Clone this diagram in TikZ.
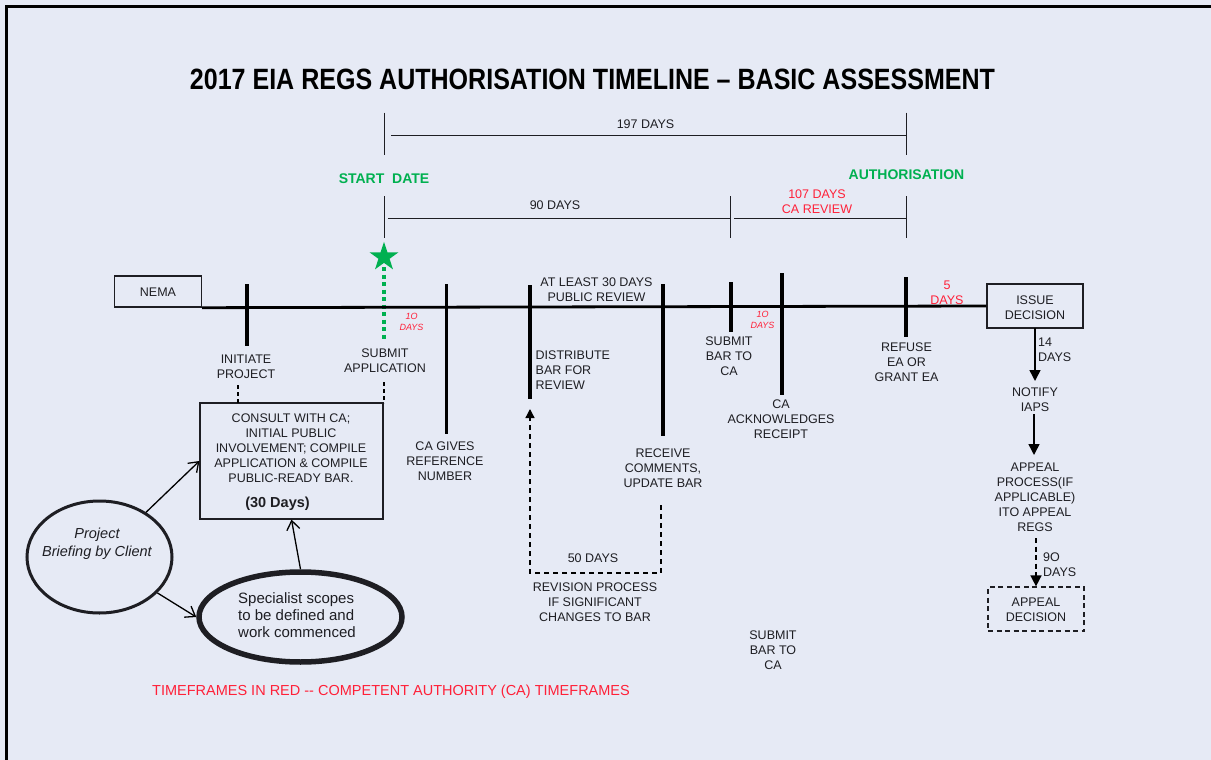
\documentclass[tikz,border=0pt]{standalone}
\usepackage{fontspec}
\setmainfont{Liberation Sans}
\usetikzlibrary{arrows.meta,shapes.geometric}
\definecolor{bg}{RGB}{230,234,245}
\definecolor{grn}{RGB}{0,176,80}
\definecolor{rd}{RGB}{255,32,56}
\definecolor{ink}{RGB}{30,30,35}
\tikzset{
  lbl/.style={font=\fontsize{12.5}{15}\selectfont, align=center, inner sep=0pt, text=ink},
  lblleft/.style={lbl, align=left, anchor=west},
  redlbl/.style={lbl, text=rd},
  smallred/.style={font=\fontsize{9}{11}\selectfont\itshape, align=center, inner sep=0pt, text=rd},
  greenlbl/.style={font=\fontsize{14}{16}\selectfont\bfseries, inner sep=0pt, text=grn},
  tickline/.style={line width=3.5pt},
  dimline/.style={line width=0.9pt, draw=ink},
  timeline/.style={line width=2.8pt},
  boxshape/.style={draw=ink, line width=1.4pt, inner sep=0pt},
  dashline/.style={line width=1.3pt, dash pattern=on 5pt off 4pt},
  openarrow/.style={line width=1.3pt, -{Straight Barb[length=9pt,width=13pt]}},
  fillarrow/.style={line width=1.5pt, -{Triangle[length=11pt,width=11pt]}},
}
\begin{document}
\begin{tikzpicture}[x=1pt,y=-1pt]
\useasboundingbox (0,0) rectangle (1211,760);
\fill[bg] (0,0) rectangle (1211,760);
\draw[line width=2.5pt] (6.5,760) -- (6.5,6.5) -- (1211,6.5);

% title
\node[inner sep=0pt, text=black] (title) at (592.5,79)
  {\resizebox{805pt}{20.5pt}{\bfseries 2017 EIA REGS AUTHORISATION TIMELINE -- BASIC ASSESSMENT}};

% dimension lines
\coordinate (sd1) at (384,112.5); \coordinate (sd2) at (384,155);
\coordinate (sd3) at (384,196);   \coordinate (sd4) at (384,238);
\coordinate (au1) at (906,112.5); \coordinate (au2) at (906,155);
\coordinate (au3) at (906,196);   \coordinate (au4) at (906,238);
\coordinate (sb1) at (730,196);   \coordinate (sb2) at (730,238);
\coordinate (d197a) at (391,135); \coordinate (d197b) at (906,135);
\coordinate (d90a) at (388,218);  \coordinate (d90b) at (730,218);
\coordinate (d107a) at (734,218); \coordinate (d107b) at (906,218);
\draw[dimline] (sd1) -- (sd2);
\draw[dimline] (sd3) -- (sd4);
\draw[dimline] (au1) -- (au2);
\draw[dimline] (au3) -- (au4);
\draw[dimline] (sb1) -- (sb2);
\draw[dimline] (d197a) -- (d197b);
\draw[dimline] (d90a) -- (d90b);
\draw[dimline] (d107a) -- (d107b);
\node[lbl] (l197) at (645.5,124) {197 DAYS};
\node[lbl] (l90) at (555,205) {90 DAYS};
\node[redlbl] (l107) at (817,202) {107 DAYS\\CA REVIEW};
\node[greenlbl] (start) at (384,179) {START\ \ DATE};
\node[greenlbl] (auth) at (906.5,175) {AUTHORISATION};

% star and green dotted line
\node[star, star points=5, star point ratio=2.6, fill=grn, minimum size=30.5pt, inner sep=0pt] (star) at (384,257) {};
\coordinate (gd1) at (384,267); \coordinate (gd2) at (384,340);
\draw[grn, line width=4pt, dash pattern=on 4pt off 3.5pt] (gd1) -- (gd2);

% boxes on the timeline
\node[boxshape, minimum width=87pt, minimum height=31pt] (nema) at (158,291.5) {};
\node[lbl] (nematxt) at (158,292) {NEMA};
\node[boxshape, minimum width=96pt, minimum height=44pt] (issue) at (1035,306) {};
\node[lbl] (issuetxt) at (1035,307.5) {ISSUE\\DECISION};

% main timeline
\draw[timeline] (nema.south east) -- (issue.west);

% ticks
\coordinate (t1a) at (247,284); \coordinate (t1b) at (247,346);
\coordinate (t2a) at (446.5,284); \coordinate (t2b) at (446.5,434);
\coordinate (t3a) at (530,285); \coordinate (t3b) at (530,399);
\coordinate (t4a) at (663,284); \coordinate (t4b) at (663,436);
\coordinate (t5a) at (731,282); \coordinate (t5b) at (731,332);
\coordinate (t6a) at (782,273); \coordinate (t6b) at (782,395);
\coordinate (t7a) at (906,277); \coordinate (t7b) at (906,337);
\foreach \t in {1,...,7} {\draw[tickline] (t\t a) -- (t\t b);}

% timeline labels
\node[lbl] (initiate) at (246,366.5) {INITIATE\\PROJECT};
\node[lbl] (submitapp) at (385,360.5) {SUBMIT\\APPLICATION};
\node[smallred] (ten1) at (411.5,321.5) {1O\\DAYS};
\node[lbl] (cagives) at (445,461.5) {CA GIVES\\REFERENCE\\NUMBER};
\node[lbl] (atleast) at (596.5,290) {AT LEAST 30 DAYS\\PUBLIC REVIEW};
\node[lblleft] (distribute) at (535.5,370) {DISTRIBUTE\\BAR FOR\\REVIEW};
\node[lbl] (receive) at (663,468) {RECEIVE\\COMMENTS,\\UPDATE BAR};
\node[lbl] (submitbar) at (729,356) {SUBMIT\\BAR TO\\CA};
\node[smallred] (ten2) at (762.5,319.5) {1O\\DAYS};
\node[lbl] (caack) at (781,419) {CA\\ACKNOWLEDGES\\RECEIPT};
\node[lbl] (refuse) at (906.5,362) {REFUSE\\EA OR\\GRANT EA};
\node[redlbl] (five) at (947,292.5) {5\\DAYS};

% right column
\node[lbl] (notify) at (1035,399.5) {NOTIFY\\IAPS};
\node[lbl] (appeal) at (1035,497.5) {APPEAL\\PROCESS(IF\\APPLICABLE)\\ITO APPEAL\\REGS};
\node[boxshape, dash pattern=on 5pt off 3.5pt, line width=1.2pt, minimum width=96pt, minimum height=44pt] (appealdec) at (1036,609) {};
\node[lbl] (appealdectxt) at (1036,609.5) {APPEAL\\DECISION};
\coordinate (n14a) at (1035,328);  \coordinate (n14b) at (1035,381);
\coordinate (nna) at (1034,414);   \coordinate (nnb) at (1034,455);
\coordinate (n90a) at (1036,538);
\draw[fillarrow] (n14a) -- (n14b);
\draw[fillarrow] (nna) -- (nnb);
\draw[fillarrow, dash pattern=on 5pt off 3.5pt] (n90a) -- (appealdec.north);
\node[lblleft] (fourteen) at (1038,350) {14\\DAYS};
\node[lblleft] (ninety) at (1043,564.5) {9O\\DAYS};

% revision loop
\coordinate (rv1) at (661,505); \coordinate (rv2) at (661,573);
\coordinate (rv3) at (530,573); \coordinate (rv4) at (530,409);
\draw[dashline, -{Triangle[length=9pt,width=9pt]}] (rv1) -- (rv2) -- (rv3) -- (rv4);
\node[lbl] (fifty) at (593,558) {50 DAYS};
\node[lbl] (revision) at (595,602) {REVISION PROCESS\\IF SIGNIFICANT\\CHANGES TO BAR};
\node[lbl] (submitbar2) at (773,650) {SUBMIT\\BAR TO\\CA};

% consult box
\node[boxshape, line width=1.2pt, minimum width=183pt, minimum height=116pt] (consult) at (291.5,461) {};
\node[lbl] (consulttxt) at (291,448) {CONSULT WITH CA;\\INITIAL PUBLIC\\INVOLVEMENT; COMPILE\\APPLICATION \& COMPILE\\PUBLIC-READY BAR.};
\node[lbl, font=\fontsize{14.5}{17}\selectfont\bfseries] (thirty) at (277.5,504) {(30 Days)};
\coordinate (ip1) at (238,385); \coordinate (ip2) at (238,403);
\coordinate (sa1) at (384,382); \coordinate (sa2) at (384,403);
\draw[dashline, line width=1.2pt, dash pattern=on 4pt off 3pt] (ip1) -- (ip2);
\draw[dashline, line width=1.2pt, dash pattern=on 4pt off 3pt] (sa1) -- (sa2);

% ellipses
\node[ellipse, draw=ink, line width=3pt, minimum width=145pt, minimum height=112pt, inner sep=0pt] (brief) at (99.5,557) {};
\node[lbl, font=\fontsize{14.5}{18}\selectfont\itshape] (brieftxt) at (97,544) {Project\\Briefing by Client};
\node[ellipse, draw=ink, line width=5.5pt, minimum width=203pt, minimum height=90pt, inner sep=0pt] (spec) at (300.5,617) {};
\node[lblleft, font=\fontsize{15}{17}\selectfont] (spectxt) at (238,615) {Specialist scopes\\to be defined and\\work commenced};
\draw[openarrow] (brief) -- (consult.west);
\draw[openarrow] (spec.north) -- (consult.south);
\draw[openarrow] (brief) -- (spec.west);

% footer
\node[redlbl, font=\fontsize{14.5}{17}\selectfont] (footer) at (391,691.5) {TIMEFRAMES IN RED -{}- COMPETENT AUTHORITY (CA) TIMEFRAMES};
\end{tikzpicture}
\end{document}
